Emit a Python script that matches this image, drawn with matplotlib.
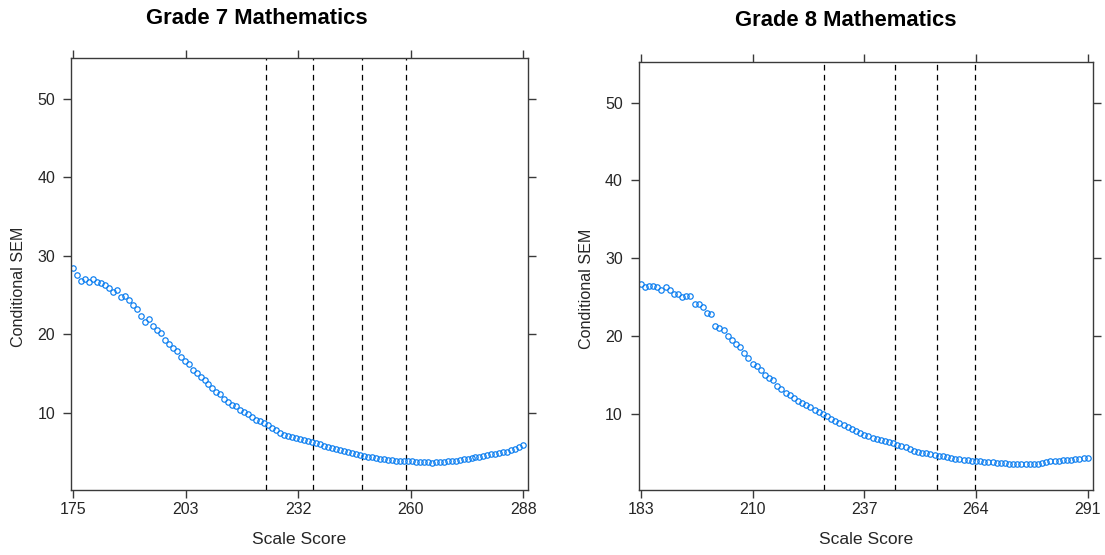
import numpy as np
import matplotlib
matplotlib.use("Agg")
import matplotlib.pyplot as plt

plt.rcParams["font.family"] = ["Liberation Sans", "DejaVu Sans"]

# Grade 7: conditional SEM for each scale score
g7_scores = list(range(175, 289))
g7_sem = [
    28.4, 27.6, 26.8, 27.1, 26.7, 27.0, 26.7, 26.5, 26.3, 25.9,
    25.4, 25.6, 24.7, 24.9, 24.3, 23.7, 23.2, 22.3, 21.6, 22.0,
    21.0, 20.5, 20.2, 19.3, 18.8, 18.2, 17.8, 17.1, 16.6, 16.2,
    15.5, 15.0, 14.6, 14.2, 13.7, 13.2, 12.6, 12.4, 11.8, 11.4,
    11.0, 10.8, 10.3, 10.1, 9.8, 9.5, 9.1, 8.9, 8.7, 8.4,
    8.1, 7.8, 7.4, 7.2, 7.05, 6.9, 6.75, 6.7, 6.55, 6.4,
    6.3, 6.1, 5.95, 5.8, 5.6, 5.5, 5.35, 5.2, 5.1, 5.0,
    4.85, 4.75, 4.6, 4.5, 4.4, 4.3, 4.2, 4.1, 4.05, 4.0,
    3.95, 3.9, 3.88, 3.85, 3.82, 3.8, 3.78, 3.75, 3.7, 3.68,
    3.62, 3.7, 3.72, 3.75, 3.8, 3.85, 3.9, 3.98, 4.05, 4.1,
    4.2, 4.3, 4.4, 4.5, 4.6, 4.7, 4.75, 4.85, 4.95, 5.05,
    5.2, 5.35, 5.6, 5.9,
]
g7_cuts = [223.4, 235.2, 247.4, 258.6]

# Grade 8
g8_scores = list(range(183, 292))
g8_sem = [
    26.7, 26.3, 26.45, 26.45, 26.3, 25.9, 26.3, 26.0, 25.4, 25.5,
    25.0, 25.2, 25.2, 24.2, 24.1, 23.8, 23.0, 22.9, 21.4, 21.1,
    20.8, 20.0, 19.6, 19.0, 18.7, 17.9, 17.2, 16.4, 16.2, 15.7,
    15.1, 14.7, 14.4, 13.7, 13.2, 12.8, 12.5, 12.1, 11.75, 11.4,
    11.2, 10.9, 10.6, 10.3, 10.0, 9.75, 9.4, 9.1, 8.9, 8.65,
    8.4, 8.1, 7.9, 7.65, 7.4, 7.2, 7.0, 6.85, 6.7, 6.55,
    6.4, 6.3, 6.1, 5.95, 5.8, 5.6, 5.35, 5.2, 5.1, 5.0,
    4.9, 4.8, 4.72, 4.65, 4.55, 4.4, 4.3, 4.25, 4.2, 4.12,
    4.08, 4.05, 4.0, 3.95, 3.9, 3.85, 3.8, 3.75, 3.7, 3.68,
    3.65, 3.63, 3.62, 3.62, 3.62, 3.63, 3.65, 3.75, 3.9, 3.97,
    4.03, 4.08, 4.12, 4.16, 4.2, 4.25, 4.3, 4.35, 4.38,
]
g8_cuts = [227.3, 244.4, 254.6, 263.7]

panels = [
    dict(title="Grade 7 Mathematics", x=g7_scores, y=g7_sem, cuts=g7_cuts,
         ticks=np.linspace(175, 288, 5), xlim=(174.5, 289.1),
         ylim=(0.15, 55.2), rect=[71, 58, 527.7, 490], title_x=257, title_y=18),
    dict(title="Grade 8 Mathematics", x=g8_scores, y=g8_sem, cuts=g8_cuts,
         ticks=np.linspace(183, 291, 5), xlim=(182.5, 292.35),
         ylim=(0.3, 55.2), rect=[638.7, 62, 1093.3, 490], title_x=846, title_y=20),
]

W, H = 1105, 555
fig = plt.figure(figsize=(W / 100, H / 100), dpi=100)

frame_col = "#3a3a3a"
text_col = "#262626"

for p in panels:
    x0, y0, x1, y1 = p["rect"]
    ax = fig.add_axes([x0 / W, 1 - y1 / H, (x1 - x0) / W, (y1 - y0) / H])

    for c in p["cuts"]:
        ax.axvline(c, color="black", lw=0.9, ls=(0, (4.5, 3.5)), zorder=1)

    ax.plot(p["x"], p["y"], ls="none", marker="o", ms=3.9, mfc="none",
            mec="#0a7df0", mew=0.85, zorder=2)

    ax.set_xlim(*p["xlim"])
    ax.set_ylim(*p["ylim"])
    ax.set_xticks(p["ticks"])
    ax.set_xticklabels([str(int(round(t))) for t in p["ticks"]])
    ax.set_yticks([10, 20, 30, 40, 50])

    for s in ax.spines.values():
        s.set_color(frame_col)
        s.set_linewidth(1.0)
    ax.tick_params(direction="out", length=5.5, width=1.0, color=frame_col,
                   labelsize=11.5, labelcolor=text_col,
                   top=True, right=True, labeltop=False, labelright=False)
    ax.tick_params(axis="x", pad=3)
    ax.tick_params(axis="y", pad=6)

    cx = (x0 + x1) / 2
    fig.text(cx / W, 1 - 540 / H, "Scale Score", ha="center", va="center",
             fontsize=12.6, color=text_col)
    fig.text((x0 - 52) / W, 1 - ((y0 + y1) / 2 + 13) / H, "Conditional SEM",
             ha="center", va="center", rotation=90, fontsize=11.6, color=text_col)
    fig.text(p["title_x"] / W, 1 - p["title_y"] / H, p["title"], ha="center",
             va="center", fontsize=15.8, fontweight="bold", color="black")

fig.savefig("out.png", dpi=100)
